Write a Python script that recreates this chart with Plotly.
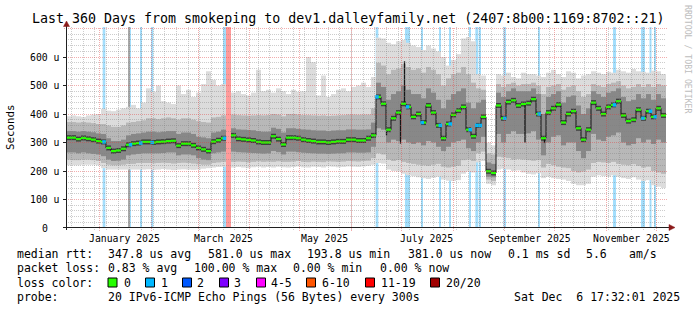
import math
import plotly.graph_objects as go
from datetime import datetime, timedelta

# ---------------- data ----------------
START = datetime(2024, 12, 11, 17, 32, 1)
END = datetime(2025, 12, 6, 17, 32, 1)
STEP_DAYS = 3          # each value covers 3 days
Y_MAX = 705.3          # top of value axis (us)

median_us = [
    317, 317, 312, 316, 313, 310, 305, 302, 281, 270,
    272, 278, 292, 296, 298, 302, 302, 300, 302, 303,
    305, 306, 289, 296, 296, 290, 281, 276, 270, 303,
    308, 315, None, 325, 313, 311, 309, 307, 302, 300,
    300, 322, 312, 293, 317, 317, 315, 310, 307, 305,
    302, 302, 300, 302, 304, 304, 310, 310, 307, 307,
    315, 325, 460, 436, 345, 385, 405, 436, 425, 390,
    400, 370, 430, 405, 360, 315, 365, 397, 412, 425,
    345, 322, 360, 390, 199, 193, 430, 385, 442, 448,
    430, 435, 438, 452, 400, 315, 405, 420, 433, 370,
    400, 410, 350, 310, 345, 440, 420, 400, 425, 432,
    445, 395, 375, 380, 415, 385, 410, 390, 420, 395,
]
smoke_min = [
    220, 220, 220, 222, 222, 222, 220, 210, 205, 205,
    205, 205, 205, 205, 205, 205, 206, 204, 205, 207,
    205, 203, 205, 206, 205, 204, 205, 208, 210, 212,
    214, 215, None, 212, 214, 212, 210, 213, 215, 212,
    214, 212, 215, 213, 212, 214, 216, 213, 212, 215,
    214, 212, 216, 215, 213, 214, 216, 215, 214, 216,
    218, 222, 228, 226, 205, 200, 198, 190, 185, 182,
    178, 175, 172, 176, 180, 170, 166, 165, 168, 190,
    198, 195, 230, 235, 155, 150, 205, 208, 205, 200,
    202, 195, 190, 188, 192, 175, 180, 175, 172, 170,
    165, 155, 150, 150, 155, 180, 185, 182, 180, 185,
    180, 175, 172, 178, 170, 165, 168, 150, 145, 140,
]
smoke_lo = [
    240, 238, 238, 240, 240, 238, 235, 228, 222, 220,
    220, 222, 225, 225, 228, 228, 228, 227, 228, 229,
    228, 226, 228, 229, 228, 226, 224, 222, 222, 228,
    230, 232, None, 232, 233, 232, 230, 232, 234, 232,
    233, 232, 234, 232, 232, 233, 235, 232, 231, 233,
    232, 231, 234, 233, 232, 233, 235, 234, 233, 235,
    236, 245, 262, 258, 240, 235, 238, 232, 228, 225,
    222, 220, 218, 222, 225, 215, 212, 215, 218, 238,
    240, 235, 262, 268, 170, 165, 250, 248, 245, 240,
    242, 240, 238, 236, 238, 212, 225, 220, 215, 212,
    210, 200, 195, 198, 205, 228, 232, 230, 228, 232,
    225, 222, 220, 224, 218, 212, 215, 200, 195, 190,
]
smoke_q1 = [
    265, 265, 262, 265, 262, 260, 258, 252, 240, 235,
    236, 240, 255, 258, 260, 262, 262, 262, 262, 263,
    265, 265, 255, 258, 258, 255, 245, 240, 238, 262,
    265, 268, None, 268, 266, 265, 264, 263, 262, 261,
    262, 270, 266, 258, 268, 268, 266, 264, 263, 262,
    261, 261, 260, 261, 262, 262, 265, 265, 264, 264,
    265, 285, 350, 345, 300, 310, 305, 310, 300, 295,
    300, 290, 305, 300, 285, 270, 285, 300, 305, 310,
    280, 270, 300, 320, 180, 178, 330, 300, 330, 340,
    330, 330, 332, 340, 310, 255, 300, 320, 325, 290,
    300, 300, 270, 245, 270, 330, 310, 305, 320, 325,
    335, 300, 290, 295, 315, 300, 310, 295, 310, 300,
]
smoke_q3 = [
    340, 340, 338, 340, 338, 336, 332, 330, 315, 305,
    305, 310, 325, 330, 332, 335, 338, 338, 336, 338,
    340, 340, 330, 335, 335, 330, 320, 318, 315, 335,
    338, 345, None, 350, 346, 345, 344, 343, 340, 338,
    338, 352, 348, 335, 350, 350, 348, 346, 345, 343,
    342, 342, 340, 342, 343, 343, 346, 346, 345, 345,
    346, 370, 510, 495, 450, 470, 480, 500, 485, 470,
    470, 455, 490, 475, 450, 420, 450, 470, 480, 490,
    440, 420, 440, 450, 230, 225, 475, 460, 480, 490,
    480, 480, 480, 490, 470, 400, 460, 470, 480, 440,
    460, 465, 430, 400, 420, 480, 470, 460, 475, 480,
    490, 460, 445, 450, 470, 455, 470, 450, 470, 455,
]
smoke_hi = [
    372, 372, 370, 372, 370, 368, 365, 365, 360, 355,
    355, 360, 370, 372, 375, 378, 385, 385, 382, 385,
    388, 385, 380, 385, 385, 380, 375, 372, 370, 388,
    390, 395, None, 398, 396, 395, 394, 395, 396, 395,
    396, 400, 398, 392, 400, 400, 398, 396, 396, 395,
    394, 395, 393, 394, 395, 396, 398, 398, 397, 398,
    398, 420, 580, 570, 540, 555, 560, 575, 565, 555,
    560, 545, 565, 555, 540, 500, 525, 540, 545, 565,
    540, 510, 490, 485, 262, 258, 505, 495, 505, 510,
    500, 505, 505, 510, 500, 470, 495, 500, 505, 485,
    495, 500, 480, 460, 470, 505, 500, 495, 505, 510,
    515, 500, 490, 495, 505, 495, 505, 495, 505, 500,
]
smoke_max = [
    392, 395, 392, 390, 395, 398, 400, 418, 412, 410,
    415, 420, 425, 432, 420, 440, 490, 478, 500, 445,
    440, 435, 500, 470, 485, 460, 475, 505, 550, 520,
    500, 505, None, 475, 480, 470, 465, 475, 555, 480,
    485, 475, 490, 480, 470, 485, 478, 480, 600, 582,
    465, 535, 460, 470, 485, 490, 480, 495, 500, 510,
    495, 530, 668, 665, 650, 645, 655, 660, 650, 640,
    635, 625, 640, 630, 620, 600, 570, 590, 610, 665,
    670, 655, 540, 535, 300, 290, 540, 535, 545, 530,
    525, 545, 540, 540, 535, 530, 545, 555, 540, 530,
    550, 545, 525, 535, 540, 550, 545, 540, 548, 545,
    555, 550, 545, 558, 550, 548, 545, 552, 550, 540,
]

# loss events: start (days after START), length (days), pings lost of 20
loss_day = [22.0, 38.4, 44.4, 51.0, 94.2, 96.0, 185.8, 203.4, 213.2, 224.1,
            230.1, 242.1, 245.6, 248.1, 262.5, 283.4, 328.2, 345.0, 350.1, 353.1]
loss_len = [1.6, 0.6, 1.0, 1.4, 1.8, 3.0, 1.6, 3.0, 1.0, 0.9,
            0.9, 0.9, 1.8, 0.9, 1.5, 1.0, 1.8, 2.4, 1.2, 0.9]
loss_pings = [1, 1, 1, 1, 1, 20, 1, 1, 1, 1,
              1, 1, 1, 1, 1, 1, 1, 1, 1, 1]
unknown_day = [37.2]
unknown_len = [1.2]
# short median excursions
spike_day = [192.3, 200.7, 203.1, 275.4, 287.1]
spike_us = [325, 296, 585, 300, 298]

y_tick_vals = [0, 100, 200, 300, 400, 500, 600]
y_tick_text = ["0", "100 u", "200 u", "300 u", "400 u", "500 u", "600 u"]
x_label_dates = ["2025-01-16", "2025-03-16", "2025-05-16", "2025-07-16", "2025-09-16", "2025-11-16"]
x_label_text = ["January 2025", "March 2025", "May 2025", "July 2025", "September 2025", "November 2025"]

loss_classes = ["0", "1", "2", "3", "4-5", "6-10", "11-19", "20/20"]
loss_class_colors = ["#26ff00", "#00b8ff", "#0059ff", "#7e00ff", "#ff00ff", "#ff5500", "#ff0000", "#a10000"]

title_text = "Last 360 Days from smokeping to dev1.dalleyfamily.net (2407:8b00:1169:8702::21)"

# ---------------- geometry ----------------
FW, FH = 697, 310
L, T, W, H = 66, 27, 600, 201
MONO = "DejaVu Sans Mono"
DAY_MS = 86400000
SPAN_S = (END - START).total_seconds()


def PX(px):
    return (px - L) / W


def PY(py):
    return (T + H - py) / H


def t(d):
    return START + timedelta(days=d)


def crisp_x(dt):
    px = L + (dt - START).total_seconds() / SPAN_S * W
    return PX(math.floor(px) + 0.5)


def crisp_y(v):
    py = T + H - v / Y_MAX * H
    return PY(math.floor(py) + 0.5)


n = len(median_us)
seg_start = [t(STEP_DAYS * i) for i in range(n)]
seg_end = [t(STEP_DAYS * (i + 1)) for i in range(n)]
seg_mid = [t(STEP_DAYS * i + STEP_DAYS / 2) for i in range(n)]

fig = go.Figure()

# loss background bars (behind smoke)
bar_col = {1: "#a3defc", 20: "#ff9a9a"}
fig.add_trace(go.Bar(
    x=[t(d + l / 2) for d, l in zip(loss_day, loss_len)],
    y=[Y_MAX] * len(loss_day), base=0,
    width=[l * DAY_MS for l in loss_len],
    marker=dict(color=[bar_col[p] for p in loss_pings], line=dict(width=0)),
    hoverinfo="skip"))
fig.add_trace(go.Bar(
    x=[t(d + l / 2) for d, l in zip(unknown_day, unknown_len)],
    y=[Y_MAX] * len(unknown_day), base=0,
    width=[l * DAY_MS for l in unknown_len],
    marker=dict(color="#aaaaaa", line=dict(width=0)),
    hoverinfo="skip"))


def band(lower, upper, color):
    ys = [None if (a is None or b is None) else b - a for a, b in zip(lower, upper)]
    fig.add_trace(go.Bar(
        x=seg_mid, y=ys, base=lower, width=[STEP_DAYS * DAY_MS] * n,
        marker=dict(color=color, line=dict(width=0)), hoverinfo="skip"))


band(smoke_min, smoke_max, "#dcdcdc")
band(smoke_lo, smoke_hi, "#b8b8b8")
band(smoke_q1, smoke_q3, "#888888")


def horiz(vals):
    xs, ys = [], []
    for i, v in enumerate(vals):
        if v is None:
            continue
        xs += [seg_start[i], seg_end[i], None]
        ys += [v, v, None]
    return xs, ys


hx, hy = horiz(median_us)
# dark core around the median
fig.add_trace(go.Scatter(x=hx, y=hy, mode="lines", line=dict(color="rgba(45,45,45,0.8)", width=5),
                         hoverinfo="skip"))
# black step connectors
fig.add_trace(go.Scatter(x=seg_start + [END], y=median_us + [median_us[-1]], mode="lines",
                         line=dict(color="#151515", width=1, shape="hv"), hoverinfo="skip"))
# spikes
sx, sy = [], []
for d, v in zip(spike_day, spike_us):
    m = median_us[int(d // STEP_DAYS)]
    sx += [t(d), t(d), None]
    sy += [m, v, None]
fig.add_trace(go.Scatter(x=sx, y=sy, mode="lines", line=dict(color="#151515", width=1.3),
                         hoverinfo="skip"))
# green median
fig.add_trace(go.Scatter(x=hx, y=hy, mode="lines", line=dict(color="#26ff00", width=2.2),
                         hoverinfo="skip"))
# loss-coloured median points
bx, by = [], []
for d, l, p in zip(loss_day, loss_len, loss_pings):
    m = median_us[int((d + l / 2) // STEP_DAYS)]
    if p == 1 and m is not None:
        bx.append(t(d + l / 2))
        by.append(m)
fig.add_trace(go.Scatter(x=bx, y=by, mode="markers",
                         marker=dict(symbol="square", size=3.5, color="#00b8ff", line=dict(width=0)),
                         hoverinfo="skip"))

# ---------------- grid / axes ----------------
shapes = []
GRID = "rgba(128,128,128,0.4)"
MGRID = "rgba(225,60,60,0.42)"
for v in range(20, 720, 20):
    if v > Y_MAX:
        break
    major = v % 100 == 0
    yy = crisp_y(v)
    shapes.append(dict(type="line", xref="paper", yref="paper",
                       x0=PX(64 if major else 66), x1=PX(668 if major else 666), y0=yy, y1=yy,
                       line=dict(color=MGRID if major else GRID, width=1, dash="1px,1px"),
                       layer="above"))
# weekly minor lines (Sundays)
d = datetime(2024, 12, 15)
while d < END:
    xx = crisp_x(d)
    shapes.append(dict(type="line", xref="paper", yref="paper", x0=xx, x1=xx, y0=PY(230), y1=1,
                       line=dict(color=GRID, width=1, dash="1px,1px"), layer="above"))
    d += timedelta(days=7)
# monthly major lines
for m in range(1, 13):
    xx = crisp_x(datetime(2025, m, 1))
    shapes.append(dict(type="line", xref="paper", yref="paper", x0=xx, x1=xx, y0=PY(231), y1=1,
                       line=dict(color=MGRID, width=1, dash="1px,1px"), layer="above"))

AX = "#202020"
shapes.append(dict(type="line", xref="paper", yref="paper", x0=PX(66.5), x1=PX(66.5),
                   y0=PY(230), y1=PY(25), line=dict(color=AX, width=1), layer="above"))
shapes.append(dict(type="line", xref="paper", yref="paper", x0=PX(63), x1=PX(670),
                   y0=PY(227.5), y1=PY(227.5), line=dict(color=AX, width=1), layer="above"))
for v in y_tick_vals:
    yy = crisp_y(v) if v else PY(227.5)
    shapes.append(dict(type="line", xref="paper", yref="paper", x0=PX(63), x1=PX(66.5), y0=yy, y1=yy,
                       line=dict(color=AX, width=1), layer="above"))
ARROW = "#8b1a1a"
shapes.append(dict(type="path", xref="paper", yref="paper",
                   path=f"M {PX(66.5)} {PY(21)} L {PX(63.5)} {PY(26.5)} L {PX(69.5)} {PY(26.5)} Z",
                   fillcolor=ARROW, line=dict(color=ARROW, width=0.5), layer="above"))
shapes.append(dict(type="path", xref="paper", yref="paper",
                   path=f"M {PX(675)} {PY(227.5)} L {PX(669)} {PY(224.5)} L {PX(669)} {PY(230.5)} Z",
                   fillcolor=ARROW, line=dict(color=ARROW, width=0.5), layer="above"))

# legend swatches
sw_x = [108, 145.5, 182.5, 219.5, 256.5, 306.5, 365.5, 430.5]
for x0, c in zip(sw_x, loss_class_colors):
    shapes.append(dict(type="rect", xref="paper", yref="paper", x0=PX(x0), x1=PX(x0 + 9),
                       y0=PY(287), y1=PY(278), fillcolor=c, line=dict(color="black", width=1)))

annotations = []


def ann(text, px, py, size, xanchor="left", color="black", angle=0, family=MONO):
    annotations.append(dict(text=text.replace(" ", "\u00a0"), xref="paper", yref="paper",
                            x=PX(px), y=PY(py), xanchor=xanchor, yanchor="middle",
                            showarrow=False, textangle=angle, borderpad=0,
                            font=dict(family=family, size=size, color=color)))


ann(title_text, 347.7, 18.7, 13.3, xanchor="center")
ann("Seconds", 10.5, 127.5, 10.8, xanchor="center", angle=-90)
ann("RRDTOOL / TOBI OETIKER", 688, 59, 8.2, xanchor="center", color="#bdbdbd", angle=90)

for v, s in zip(y_tick_vals, y_tick_text):
    annotations.append(dict(text=s.replace(" ", "\u00a0"), xref="paper", yref="y",
                            x=PX(44.7), y=v, xanchor="center", yanchor="middle",
                            showarrow=False, borderpad=0,
                            font=dict(family=MONO, size=9.8, color="black")))
for dstr, s in zip(x_label_dates, x_label_text):
    annotations.append(dict(text=s.replace(" ", "\u00a0"), xref="x", yref="paper",
                            x=dstr, y=PY(238), xanchor="center", yanchor="middle",
                            showarrow=False, borderpad=0,
                            font=dict(family=MONO, size=9.8, color="black")))

LS = 11.5
row1 = [("median rtt:", 16), ("347.8 us avg", 106.5), ("581.0 us max", 206.5), ("193.8 us min", 306),
        ("381.0 us now", 406.5), ("0.1 ms sd", 506.5), ("5.6", 584.5), ("am/s", 627.5)]
row2 = [("packet loss:", 16), ("0.83 % avg", 106.5), ("100.00 % max", 193.3), ("0.00 % min", 292),
        ("0.00 % now", 378.5)]
row4 = [("probe:", 16), ("20 IPv6-ICMP Echo Pings (56 Bytes) every 300s", 106.5),
        ("Sat Dec  6 17:32:01 2025", 512.5)]
for s, x in row1:
    ann(s, x, 254, LS)
for s, x in row2:
    ann(s, x, 268, LS)
ann("loss color:", 16, 282.5, LS)
lab_x = [122.5, 159.5, 196, 232.5, 270, 321, 380, 445]
for s, x in zip(loss_classes, lab_x):
    ann(s, x, 282.5, LS)
for s, x in row4:
    ann(s, x, 296.5, LS)

fig.update_layout(
    width=FW, height=FH, margin=dict(l=L, r=FW - L - W, t=T, b=FH - T - H),
    paper_bgcolor="white", plot_bgcolor="white", showlegend=False, barmode="overlay",
    xaxis=dict(range=[START, END], showgrid=False, zeroline=False, showticklabels=False,
               ticks="", showline=False, fixedrange=True),
    yaxis=dict(range=[0, Y_MAX], showgrid=False, zeroline=False, showticklabels=False,
               ticks="", showline=False, fixedrange=True),
    shapes=shapes, annotations=annotations,
)

fig.write_html("out.html")
